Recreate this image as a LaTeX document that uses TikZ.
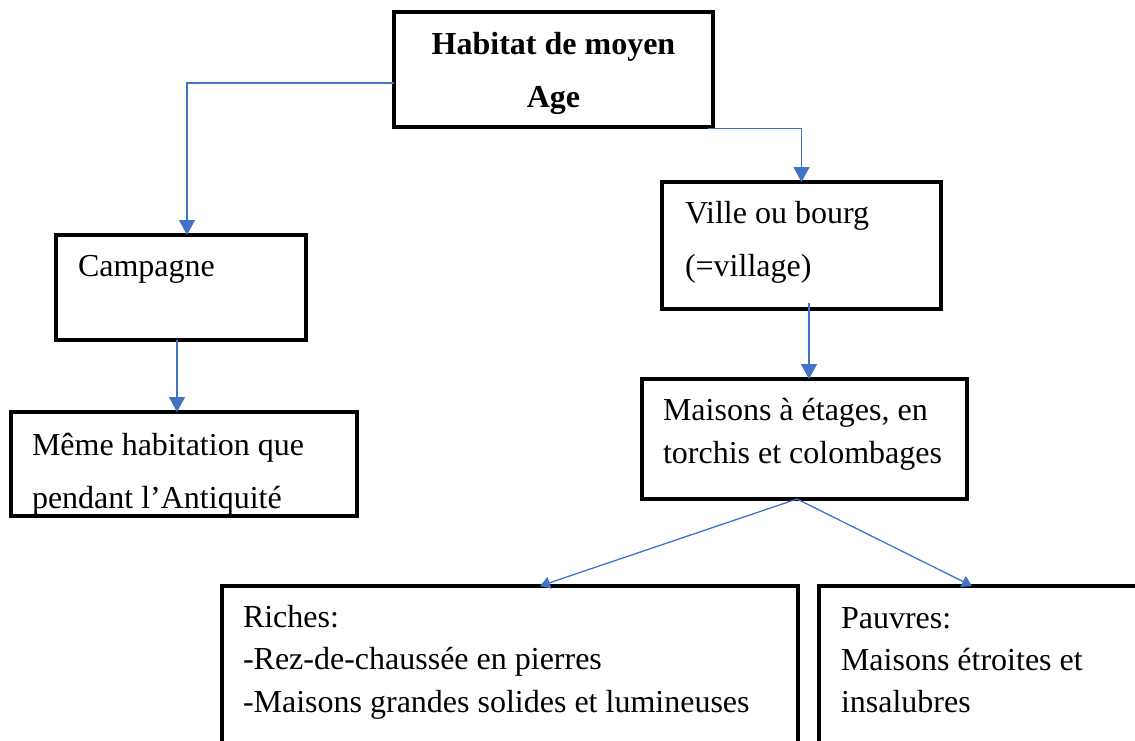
\documentclass[tikz,border=0pt]{standalone}
\usepackage{fontspec}
\setmainfont{Liberation Serif}
\usetikzlibrary{arrows.meta}
\definecolor{linkblue}{HTML}{4472C4}
% lines stacked with a chosen baseline distance; baseline of the stack = first line
\newcommand\leftstack[2]{\vtop{\baselineskip=#1\lineskiplimit=-100pt\lineskip=0pt\halign{##\hfil\cr#2\crcr}}}
\newcommand\centerstack[2]{\vtop{\baselineskip=#1\lineskiplimit=-100pt\lineskip=0pt\halign{\hfil##\hfil\cr#2\crcr}}}
\begin{document}
\begin{tikzpicture}[x=1pt,y=1pt,
  box/.style={draw=black, line width=3.4pt, rectangle, inner sep=0pt, outer sep=0pt},
  txt/.style={inner sep=0pt, outer sep=0pt, anchor=base west, font=\fontsize{32}{32}\selectfont},
  conn/.style={draw=linkblue, line width=1.3pt, -{Triangle[length=15pt,width=16pt]}},
  connsmall/.style={draw=linkblue, line width=1.3pt, -{Triangle[length=10pt,width=12pt]}}]
\useasboundingbox (0,0) rectangle (1135,-740);
\clip (0,0) rectangle (1135,-740);

% boxes
\node[box, minimum width=319pt, minimum height=115pt] (top)     at (553.5,-69.5) {};
\node[box, minimum width=250pt, minimum height=105pt] (camp)    at (181,-287.5) {};
\node[box, minimum width=346pt, minimum height=104pt] (meme)    at (184,-464) {};
\node[box, minimum width=279pt, minimum height=127pt] (ville)   at (801.5,-245.5) {};
\node[box, minimum width=325pt, minimum height=120pt] (mais)    at (804.5,-439) {};
\node[box, minimum width=576pt, minimum height=174pt] (riches)  at (510,-673) {};
\node[box, minimum width=336pt, minimum height=174pt] (pauvres) at (987,-673) {};

% texts
\node[txt, anchor=base, font=\fontsize{32}{32}\selectfont\bfseries] (top-t) at (553.5,-54)
  {\centerstack{53pt}{Habitat de moyen\cr Age}};
\node[txt] (camp-t) at (78,-276) {Campagne};
\node[txt] (meme-t) at (32,-455) {\leftstack{53pt}{Même habitation que\cr pendant l’Antiquité}};
\node[txt] (ville-t) at (685,-223) {\leftstack{53pt}{Ville ou bourg\cr (=village)}};
\node[txt] (mais-t) at (663,-420) {\leftstack{43pt}{Maisons à étages, en\cr torchis et colombages}};
\node[txt] (riches-t) at (243,-627) {\leftstack{42.5pt}{Riches:\cr -Rez-de-chaussée en pierres\cr -Maisons grandes solides et lumineuses}};
\node[txt] (pauvres-t) at (841,-628) {\leftstack{42pt}{Pauvres:\cr Maisons étroites et\cr insalubres}};

% connectors
\draw[conn] ([yshift=-13.5pt]top.west) -| ([xshift=6pt]camp.north);
\draw[conn] ([xshift=-5pt,yshift=-1.5pt]top.south east) -| (ville.north);
\draw[conn] ([xshift=-4pt]camp.south) -- ([xshift=-7pt]meme.north);
\draw[conn] ([xshift=7.5pt,yshift=6pt]ville.south) -- ([xshift=4.5pt]mais.north);
\draw[connsmall] ([xshift=-7.5pt]mais.south) -- ([xshift=30pt]riches.north);
\draw[connsmall] ([xshift=-7.5pt]mais.south) -- ([xshift=-15pt]pauvres.north);
\end{tikzpicture}
\end{document}
